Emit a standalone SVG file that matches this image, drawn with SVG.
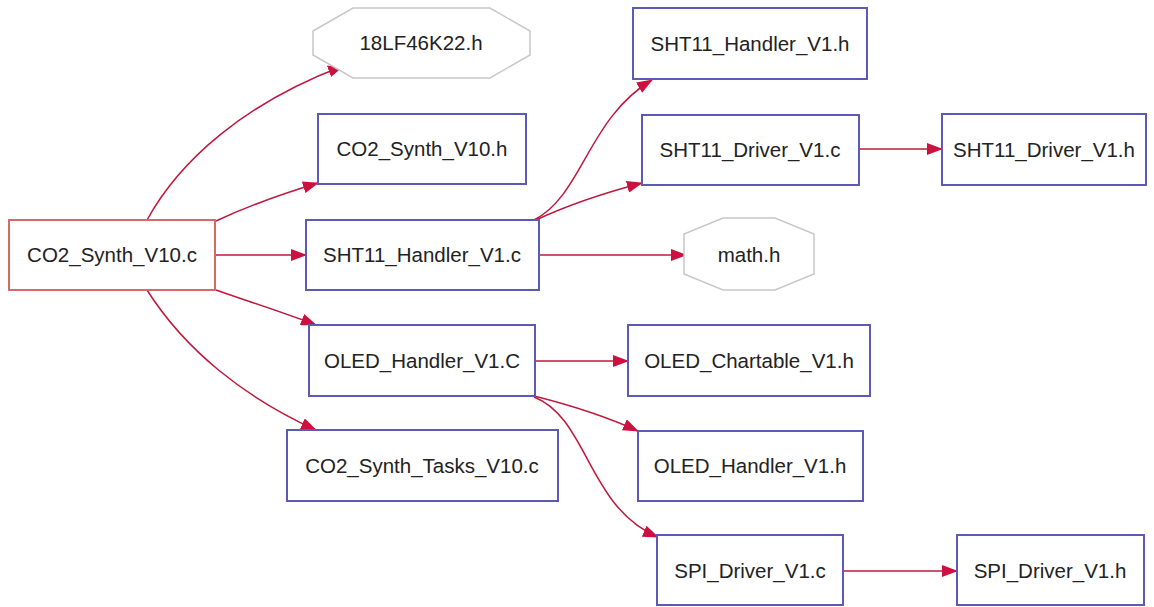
<svg xmlns="http://www.w3.org/2000/svg" width="1154" height="607" viewBox="0 0 1154 607">
<style>
.box{fill:#ffffff;stroke:#5b5bb5;stroke-width:2}
.root{fill:#ffffff;stroke:#d46a6a;stroke-width:2}
.oct{fill:#ffffff;stroke:#c8c8c8;stroke-width:1.5}
.lbl{font-family:"Liberation Sans",Arial,sans-serif;font-size:20.5px;fill:#222222;text-anchor:middle}
.edge{fill:none;stroke:#c0183c;stroke-width:1.5;marker-end:url(#ah)}
</style>
<defs>
<marker id="ah" viewBox="0 0 16 12" refX="15" refY="6" markerWidth="16" markerHeight="12" markerUnits="userSpaceOnUse" orient="auto">
<path d="M0,0 L16,6 L0,12 z" fill="#cc1040"/>
</marker>
</defs>
<rect width="1154" height="607" fill="#ffffff"/>
<g id="connectors">
<path class="edge" d="M147,220 C180,160 245,103 343,66"/>
<path class="edge" d="M216,221 C250,205 285,193 318,183"/>
<path class="edge" d="M215,255 L306,255"/>
<path class="edge" d="M216,290 C250,302 285,313 316,325"/>
<path class="edge" d="M147,290 C185,350 245,398 316,430"/>
<path class="edge" d="M534,220 C582,196 588,118 652,80"/>
<path class="edge" d="M536,220 C568,205 604,193 642,183"/>
<path class="edge" d="M539,255 L686,255"/>
<path class="edge" d="M859,149 L942,149"/>
<path class="edge" d="M535,361 L628,361"/>
<path class="edge" d="M534,396 C570,405 605,416 638,431"/>
<path class="edge" d="M534,397 C588,418 588,508 658,537"/>
<path class="edge" d="M843,571 L957,571"/>
</g>
<g id="n_co2_synth_c">
<rect class="root" x="9" y="220" width="206" height="70"/>
<text class="lbl" x="112" y="262">CO2_Synth_V10.c</text>
</g>
<g id="n_18lf46k22_h">
<polygon class="oct" points="313,31 313,55 353,78 490,78 530,55 530,31 490,8 353,8"/>
<text class="lbl" x="421" y="50">18LF46K22.h</text>
</g>
<g id="n_co2_synth_h">
<rect class="box" x="318" y="114" width="208" height="70"/>
<text class="lbl" x="422" y="156">CO2_Synth_V10.h</text>
</g>
<g id="n_sht11_handler_c">
<rect class="box" x="306" y="220" width="233" height="70"/>
<text class="lbl" x="422" y="262">SHT11_Handler_V1.c</text>
</g>
<g id="n_oled_handler_c">
<rect class="box" x="309" y="325" width="226" height="71"/>
<text class="lbl" x="422" y="368">OLED_Handler_V1.C</text>
</g>
<g id="n_co2_synth_tasks_c">
<rect class="box" x="287" y="430" width="271" height="71"/>
<text class="lbl" x="422" y="473">CO2_Synth_Tasks_V10.c</text>
</g>
<g id="n_sht11_handler_h">
<rect class="box" x="633" y="8" width="234" height="71"/>
<text class="lbl" x="750" y="51">SHT11_Handler_V1.h</text>
</g>
<g id="n_sht11_driver_c">
<rect class="box" x="642" y="115" width="217" height="70"/>
<text class="lbl" x="750" y="157">SHT11_Driver_V1.c</text>
</g>
<g id="n_math_h">
<polygon class="oct" points="684,234 684,274 723,290 775,290 814,274 814,234 775,218 723,218"/>
<text class="lbl" x="749" y="262">math.h</text>
</g>
<g id="n_oled_chartable_h">
<rect class="box" x="628" y="325" width="242" height="71"/>
<text class="lbl" x="749" y="368">OLED_Chartable_V1.h</text>
</g>
<g id="n_oled_handler_h">
<rect class="box" x="638" y="431" width="225" height="70"/>
<text class="lbl" x="750" y="473">OLED_Handler_V1.h</text>
</g>
<g id="n_spi_driver_c">
<rect class="box" x="657" y="535" width="186" height="70"/>
<text class="lbl" x="750" y="578">SPI_Driver_V1.c</text>
</g>
<g id="n_sht11_driver_h">
<rect class="box" x="942" y="114" width="204" height="71"/>
<text class="lbl" x="1044" y="157">SHT11_Driver_V1.h</text>
</g>
<g id="n_spi_driver_h">
<rect class="box" x="957" y="535" width="187" height="70"/>
<text class="lbl" x="1050" y="578">SPI_Driver_V1.h</text>
</g>
</svg>
